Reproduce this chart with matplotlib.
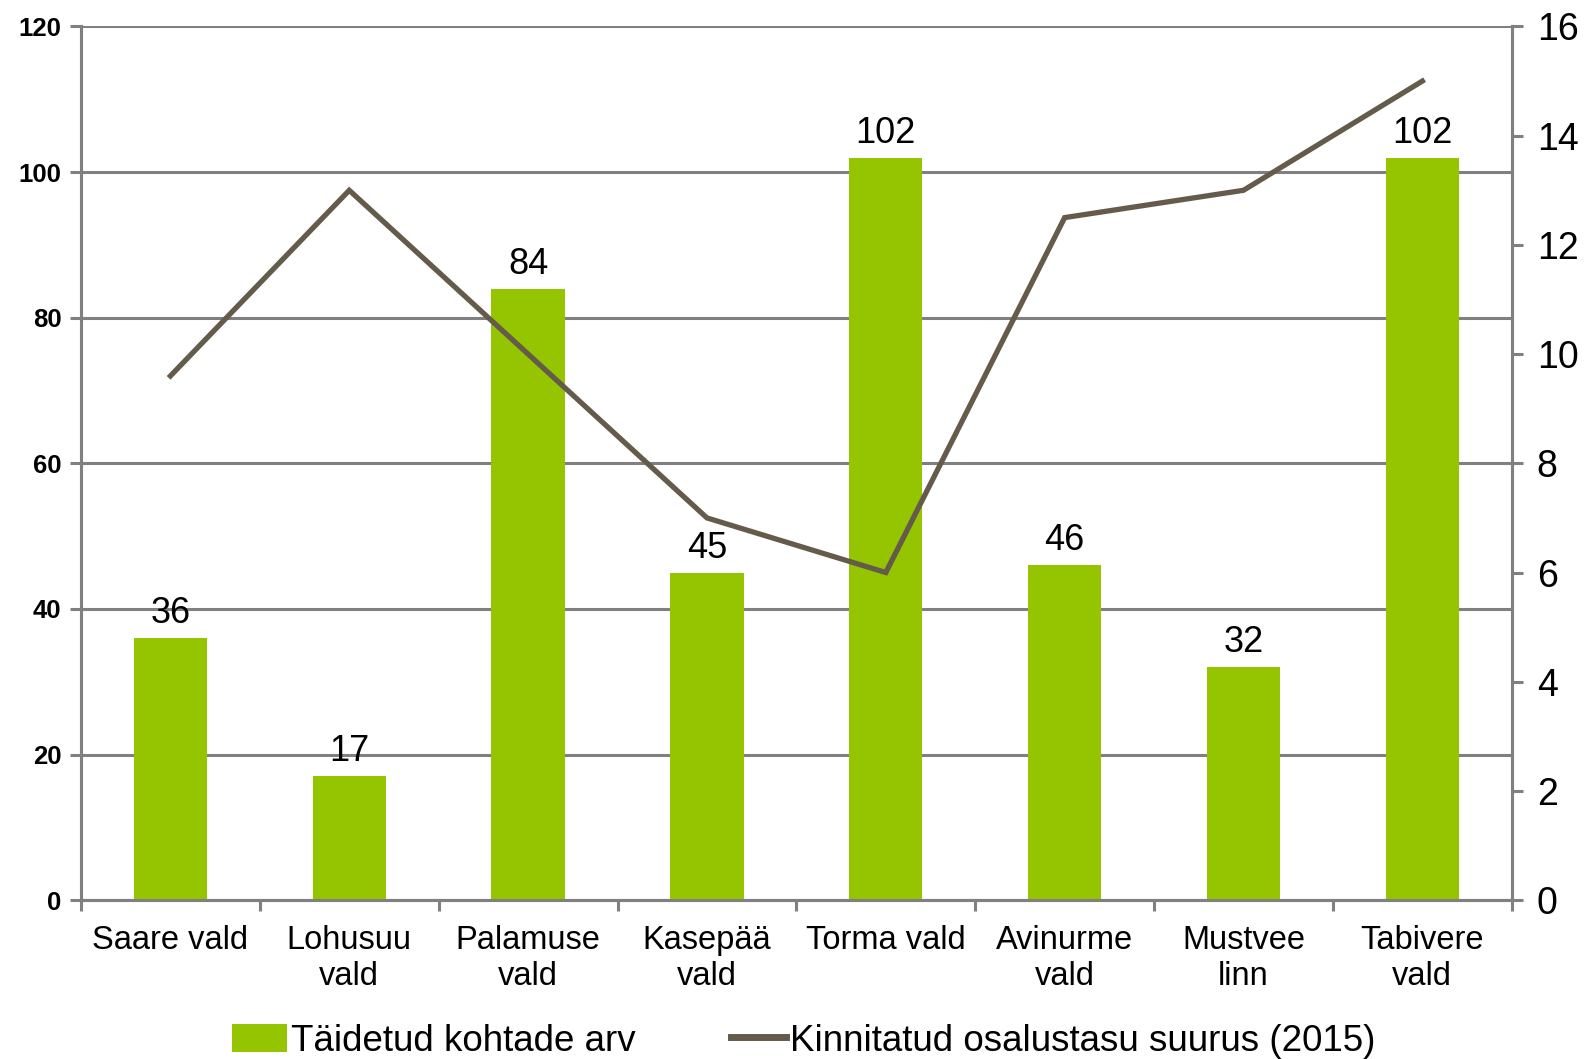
import numpy as np
import matplotlib.pyplot as plt
from matplotlib.lines import Line2D
from matplotlib.patches import Patch

plt.rcParams['font.family'] = ['Liberation Sans', 'DejaVu Sans']

categories = ['Saare vald', 'Lohusuu\nvald', 'Palamuse\nvald', 'Kasepää\nvald',
              'Torma vald', 'Avinurme\nvald', 'Mustvee\nlinn', 'Tabivere\nvald']
filled_places = [36, 17, 84, 45, 102, 46, 32, 102]
fee_2015 = [9.6, 13, 10, 7, 6, 12.5, 13, 15]

bar_color = '#95C400'
line_color = '#655B4A'
grid_color = '#808080'

fig = plt.figure(figsize=(15.88, 10.59), dpi=100)
ax = fig.add_axes([0.051, 0.150, 0.901, 0.825])
ax2 = ax.twinx()

x = np.arange(len(categories))
ax.bar(x, filled_places, width=0.41, color=bar_color, zorder=3)
for xi, v in zip(x, filled_places):
    ax.annotate(str(v), (xi, v), xytext=(0, 5), textcoords='offset points',
                ha='center', va='bottom', fontsize=26, zorder=6)

ax2.plot(x, fee_2015, color=line_color, lw=3.8, zorder=5, solid_joinstyle='miter')

ax.set_xlim(-0.5, len(categories) - 0.5)
ax.set_ylim(0, 120)
ax.set_yticks(range(0, 121, 20))
ax2.set_ylim(0, 16)
ax2.set_yticks(range(0, 17, 2))

ax.set_zorder(ax2.get_zorder() - 1)
ax.patch.set_visible(True)
ax2.patch.set_visible(False)

ax.yaxis.grid(True, color=grid_color, lw=2.2, zorder=0)
ax.set_axisbelow(True)

# category boundaries as tick marks, labels at centers
ax.set_xticks(np.arange(-0.5, len(categories), 1.0))
ax.set_xticklabels([])
ax.set_xticks(x, minor=True)
ax.set_xticklabels(categories, minor=True, fontsize=23.5, linespacing=1.22)
ax.tick_params(axis='x', which='major', length=8, width=2.2, color=grid_color, direction='out')
ax.tick_params(axis='x', which='minor', length=0, pad=18)

ax.tick_params(axis='y', length=8, width=2.2, color=grid_color, labelsize=18.5, pad=6)
for lbl in ax.get_yticklabels():
    lbl.set_fontweight('bold')
ax2.tick_params(axis='y', length=8, width=2.2, color=grid_color, labelsize=27, pad=10)

for a in (ax, ax2):
    for side in ('top', 'left', 'right', 'bottom'):
        a.spines[side].set_color(grid_color)
        a.spines[side].set_linewidth(2.2)
ax2.spines['top'].set_visible(False)
ax.spines['top'].set_visible(False)

handles = [Patch(facecolor=bar_color, edgecolor='none'),
           Line2D([0], [0], color=line_color, lw=5)]
labels = ['Täidetud kohtade arv', 'Kinnitatud osalustasu suurus (2015)']
fig.legend(handles, labels, loc='lower center', bbox_to_anchor=(0.506, -0.031), ncol=2,
           frameon=False, fontsize=26.5, handlelength=1.5, handletextpad=0.1,
           columnspacing=2.6, handleheight=0.8)

fig.savefig('out.png', dpi=100)
